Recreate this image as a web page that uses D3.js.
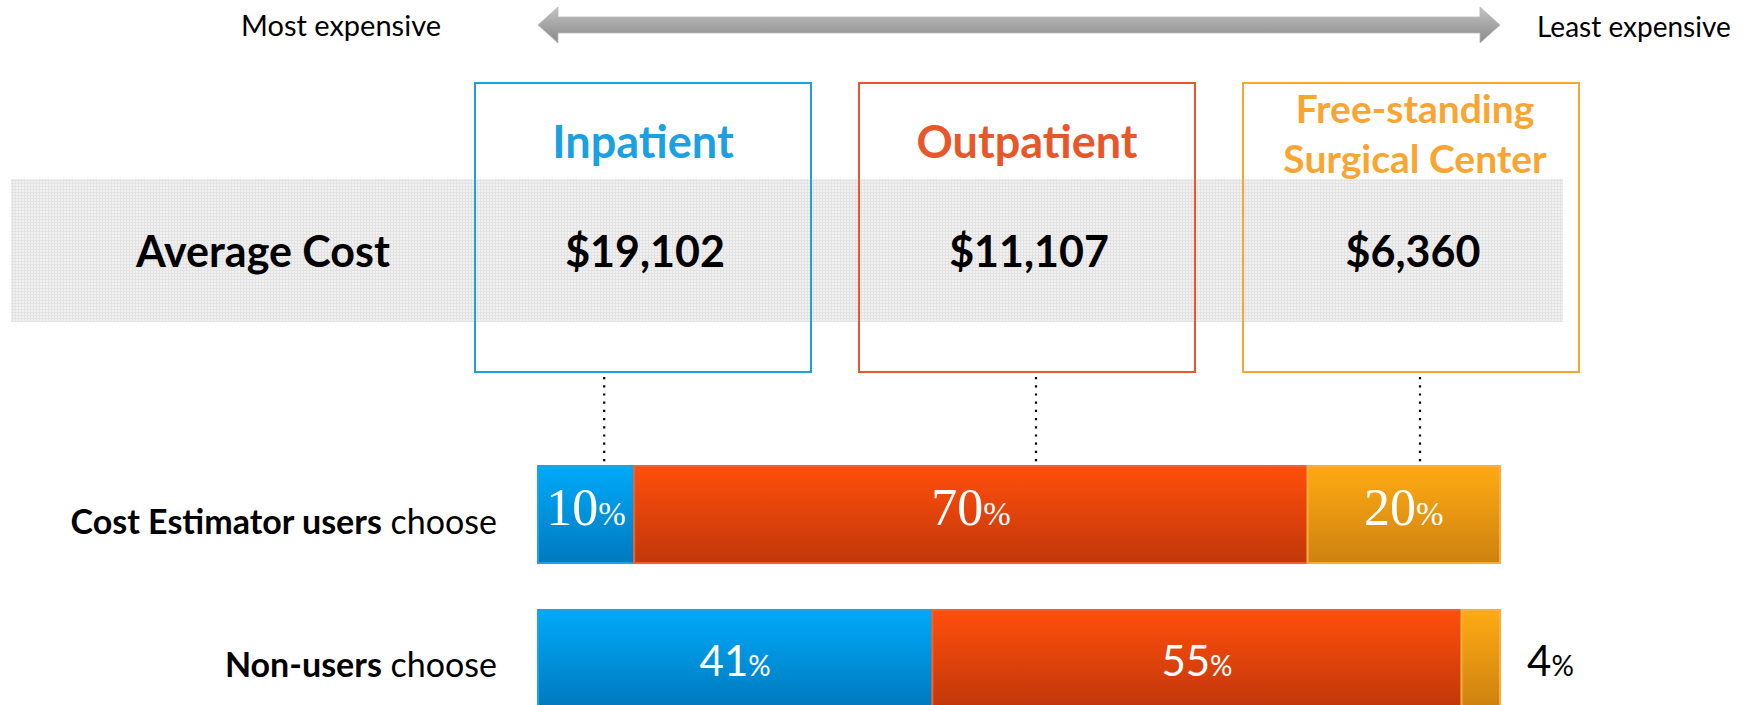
<!DOCTYPE html>
<html>
<head>
<meta charset="utf-8">
<script src="https://cdn.jsdelivr.net/npm/d3@7"></script>
<style>
  body { margin: 0; background: #fff; }
  svg { display: block; font-family: Lato, 'Open Sans', sans-serif; }
</style>
</head>
<body>
<svg id="chart" width="1757" height="705"></svg>
<script>
// settings and their average cost
const categories = ['Inpatient', 'Outpatient', 'Free-standing Surgical Center']
const titleLines = [['Inpatient'], ['Outpatient'], ['Free-standing', 'Surgical Center']]
const averageCosts = [19102, 11107, 6360]

// share of each group choosing each setting (%)
const groups = ['Cost Estimator users', 'Non-users']
const userShares = [10, 70, 20]
const nonUserShares = [41, 55, 4]

const scaleEnds = ['Most expensive', 'Least expensive']
const rowLabel = 'Average Cost'

const colors = ['#1BA1E2', '#E8572A', '#F9A532']
const gradTop = ['#00AAFA', '#FF4F0C', '#FFAA14']
const gradBottom = ['#0079BD', '#C1370A', '#CD820F']
const barStroke = ['#1EA2E4', '#F0612F', '#F9AE3C']

const svg = d3.select('#chart')
const defs = svg.append('defs')

/**
 * Adds a vertical gradient to the defs
 */
function addGradient (id, stops) {
  const g = defs.append('linearGradient').attr('id', id)
    .attr('x1', 0).attr('y1', 0).attr('x2', 0).attr('y2', 1)
  stops.forEach(s => g.append('stop').attr('offset', s[0]).attr('stop-color', s[1]))
}

categories.forEach((c, i) => addGradient('grad' + i, [[0, gradTop[i]], [1, gradBottom[i]]]))
addGradient('arrowGrad', [[0, '#c4c4c4'], [0.45, '#a8a8a8'], [1, '#8a8a8a']])

// fine grid pattern of the band
const pat = defs.append('pattern').attr('id', 'grid')
  .attr('width', 3).attr('height', 3).attr('patternUnits', 'userSpaceOnUse')
pat.append('rect').attr('width', 3).attr('height', 3).attr('fill', '#f1f1f1')
pat.append('path').attr('d', 'M0,0.5H3M0.5,0V3').attr('stroke', '#e3e3e3').attr('stroke-width', 1)

// scales
const boxX = d3.scaleBand().domain(categories).range([475, 1579]).paddingInner(0.125)
const x = d3.scaleLinear().domain([0, 100]).range([538, 1500])
const y = d3.scaleBand().domain(groups).range([466, 707]).paddingInner(0.326)

// top arrow
const ax0 = x(0); const ax1 = x(100); const ay = 25
svg.append('path')
  .attr('d', `M${ax0},${ay} L${ax0 + 20},${ay - 18} L${ax0 + 20},${ay - 8} L${ax1 - 20},${ay - 8}
    L${ax1 - 20},${ay - 18} L${ax1},${ay} L${ax1 - 20},${ay + 18} L${ax1 - 20},${ay + 8}
    L${ax0 + 20},${ay + 8} L${ax0 + 20},${ay + 18} Z`)
  .attr('fill', 'url(#arrowGrad)')
  .attr('stroke', '#b8b8b8').attr('stroke-width', 0.8)

svg.append('text').attr('x', 241).attr('y', 36).attr('font-size', 29).text(scaleEnds[0])
svg.append('text').attr('x', 1537).attr('y', 37).attr('font-size', 28).text(scaleEnds[1])

// grey band with average cost
svg.append('rect').attr('x', 11).attr('y', 179).attr('width', 1552).attr('height', 143)
  .attr('fill', 'url(#grid)')
svg.append('text').attr('x', 263).attr('y', 267).attr('text-anchor', 'middle')
  .attr('font-size', 43).attr('font-weight', 'bold').text(rowLabel)

// boxes
const box = svg.selectAll('g.box').data(categories).join('g').attr('class', 'box')
box.append('rect')
  .attr('x', d => boxX(d)).attr('y', 83)
  .attr('width', boxX.bandwidth()).attr('height', 289)
  .attr('fill', 'none').attr('stroke', (d, i) => colors[i]).attr('stroke-width', 2)

box.each(function (d, i) {
  const g = d3.select(this)
  const cx = boxX(d) + boxX.bandwidth() / 2
  const lines = titleLines[i]
  const single = lines.length === 1
  const t = g.append('text').attr('text-anchor', 'middle').attr('font-weight', 'bold')
    .attr('font-size', single ? 45 : 39).attr('fill', colors[i])
  lines.forEach((l, k) => {
    t.append('tspan').attr('x', cx + (single ? 0 : 4))
      .attr('y', single ? 158 : 123 + k * 50).text(l)
  })
  g.append('text').attr('x', cx + 2).attr('y', 267).attr('text-anchor', 'middle')
    .attr('font-weight', 'bold').attr('font-size', 43)
    .text(d3.format('$,')(averageCosts[i]))
})

// stacked bars
const rows = [userShares, nonUserShares]
rows.forEach((shares, r) => {
  const starts = d3.cumsum([0].concat(shares)).slice(0, shares.length)
  const g = svg.append('g').attr('class', 'row')
  const segs = shares.map((v, i) => ({ v, i, x0: starts[i], x1: starts[i] + v }))

  g.selectAll('rect').data(segs).join('rect')
    .attr('x', d => x(d.x0)).attr('y', y(groups[r]))
    .attr('width', d => x(d.x1) - x(d.x0)).attr('height', y.bandwidth())
    .attr('fill', d => 'url(#grad' + d.i + ')')
    .attr('stroke', d => barStroke[d.i]).attr('stroke-width', 2)

  const base = y(groups[r]) + y.bandwidth() / 2
  const serif = r === 0
  g.selectAll('text').data(segs).join('text')
    .each(function (d) {
      const w = x(d.x1) - x(d.x0)
      const inside = w > 70
      const t = d3.select(this)
        .attr('x', inside ? (x(d.x0) + x(d.x1)) / 2 : x(100) + 27)
        .attr('y', base + (serif ? 10 : 18))
        .attr('text-anchor', inside ? 'middle' : 'start')
        .attr('fill', inside ? '#fff' : '#000')
        .attr('font-family', serif && inside ? "'Liberation Serif', serif" : null)
      t.append('tspan').attr('font-size', serif ? 52 : 42).text(d.v)
      t.append('tspan').attr('font-size', serif ? 33 : 28).text('%')
    })
})

// dotted connectors from boxes to the first bar
const firstStarts = d3.cumsum([0].concat(userShares))
categories.forEach((c, i) => {
  const cx = boxX(c) + boxX.bandwidth() / 2 + 9
  const lx = Math.max(x(firstStarts[i]) + 30, Math.min(cx, x(firstStarts[i + 1]) - 30))
  svg.append('line').attr('x1', lx).attr('x2', lx).attr('y1', 377).attr('y2', y(groups[0]))
    .attr('stroke', '#000').attr('stroke-width', 2.2).attr('stroke-dasharray', '2.2,6')
})

// row labels
const labelBold = ['Cost Estimator users', 'Non-users']
groups.forEach((gname, r) => {
  const t = svg.append('text').attr('x', 497).attr('y', y(gname) + y.bandwidth() / 2 + 19)
    .attr('text-anchor', 'end').attr('font-size', 34)
  t.append('tspan').attr('font-weight', 'bold').text(labelBold[r])
  t.append('tspan').text(' choose')
})
</script>
</body>
</html>
